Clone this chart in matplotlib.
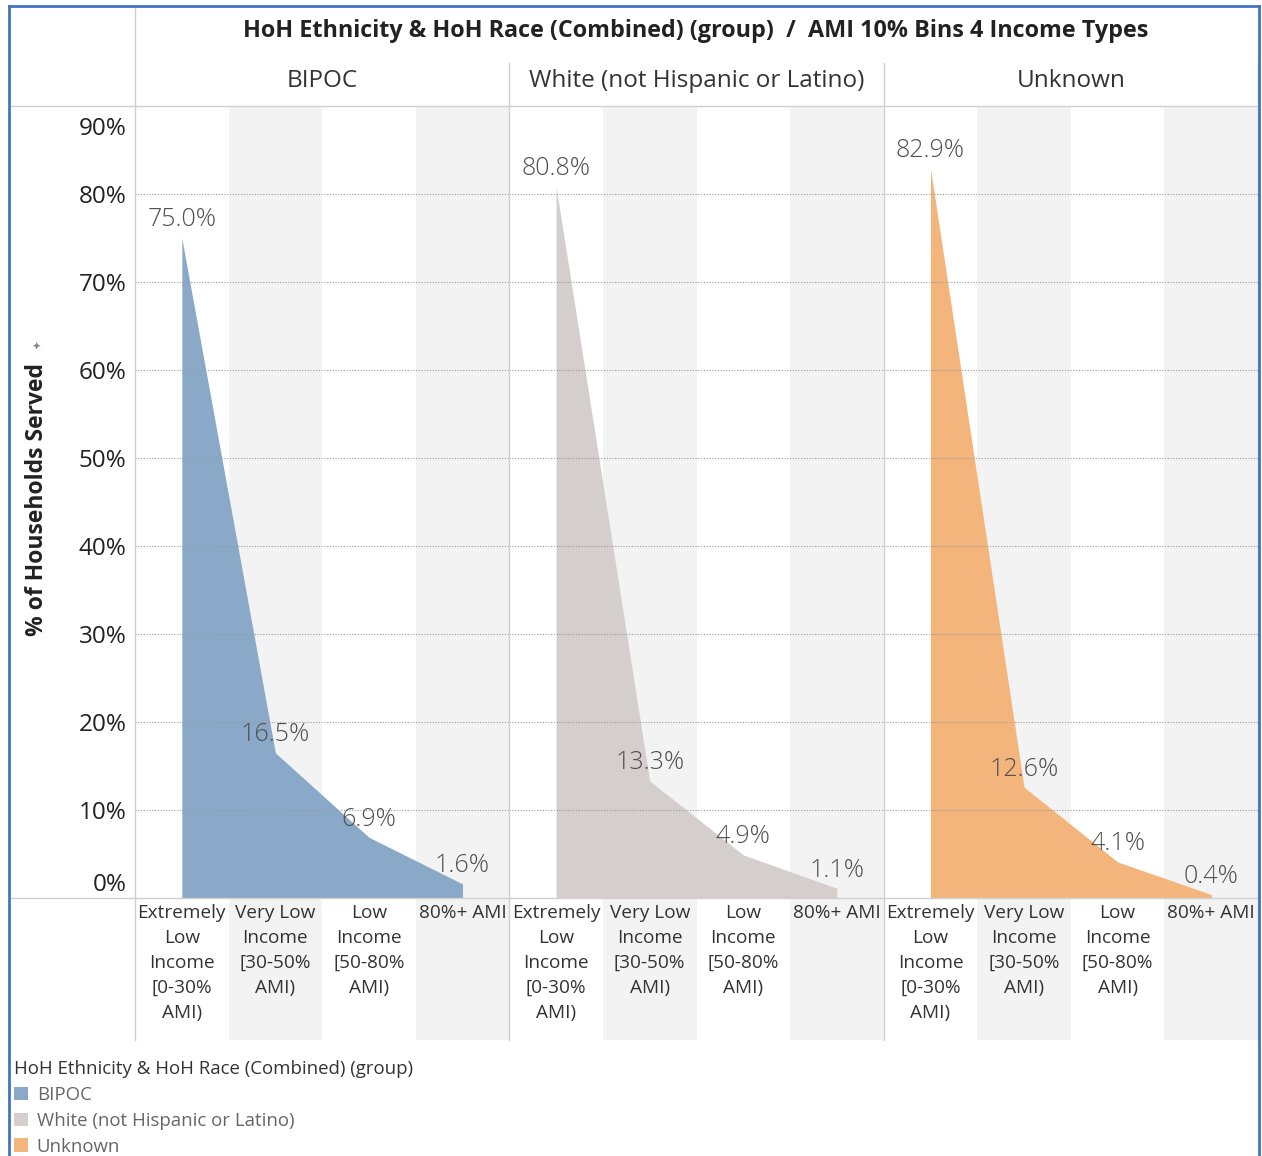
import matplotlib.pyplot as plt
from matplotlib.patches import Rectangle, Patch
from matplotlib.lines import Line2D
from matplotlib.transforms import ScaledTranslation

plt.rcParams['font.family'] = ['Open Sans', 'DejaVu Sans']

groups = ['BIPOC', 'White (not Hispanic or Latino)', 'Unknown']
income_types = ['Extremely\nLow\nIncome\n[0-30%\nAMI)',
                'Very Low\nIncome\n[30-50%\nAMI)',
                'Low\nIncome\n[50-80%\nAMI)',
                '80%+ AMI']
bipoc = [75.0, 16.5, 6.9, 1.6]
white = [80.8, 13.3, 4.9, 1.1]
unknown = [82.9, 12.6, 4.1, 0.4]
colors = ['#8aa9c9', '#d4cecc', '#f3b57b']

W, H = 1262, 1156
left, right, top, bottom = 135, 1258, 106, 898
pw = (right - left) / 3
band = '#f3f3f3'
rule = '#d0d0d0'

fig = plt.figure(figsize=(W / 100, H / 100), dpi=100)


def fx(px):
    return px / W


def fy(px):
    return 1 - px / H


axes = []
for i, (name, vals, c) in enumerate(zip(groups, [bipoc, white, unknown], colors)):
    ax = fig.add_axes([fx(left + i * pw), fy(bottom), fx(pw), (bottom - top) / H])
    ax.set_xlim(-0.5, 3.5)
    ax.set_ylim(0, 90)
    # shaded columns run down through the label area
    for j in (1, 3):
        ax.add_patch(Rectangle((j - 0.5, -0.179), 1, 1.179, transform=ax.get_xaxis_transform(),
                               facecolor=band, edgecolor='none', clip_on=False, zorder=0))
    xs = list(range(len(vals)))
    ax.fill_between(xs, vals, 0, color=c, lw=0, zorder=2)
    for x, v in zip(xs, vals):
        ax.annotate(f'{v:.1f}%', (x, v), xytext=(0, 4), textcoords='offset points',
                    ha='center', va='bottom', fontsize=18, color='#505050',
                    fontweight='light', zorder=3)
    ax.set_yticks(range(0, 91, 10))
    ax.yaxis.grid(True, linestyle=(0, (1, 1.5)), color='#9a9a9a', lw=0.8, zorder=1)
    ax.set_axisbelow(False)
    gl = ax.get_ygridlines()
    gl[0].set_visible(False)
    gl[-1].set_visible(False)
    ax.set_xticks(xs, income_types, fontsize=13.7, linespacing=1.5, va='top', color='#333333')
    ax.tick_params(axis='x', length=0, pad=4)
    ax.tick_params(axis='y', length=0, pad=6)
    if i == 0:
        ax.set_yticklabels([f'{t}%' for t in range(0, 91, 10)], fontsize=17.5, color='#222222')
        labels = ax.get_yticklabels()
        # keep the end labels inside the plot height
        labels[0].set_transform(labels[0].get_transform() + ScaledTranslation(0, 16 / 100, fig.dpi_scale_trans))
        labels[-1].set_transform(labels[-1].get_transform() + ScaledTranslation(0, -20 / 100, fig.dpi_scale_trans))
    else:
        ax.set_yticklabels([])
    for s in ax.spines.values():
        s.set_visible(False)
    ax.patch.set_alpha(0)
    fig.text(fx(left + (i + 0.5) * pw), fy(81), name, ha='center', va='center',
             fontsize=17.5, color='#333333')
    axes.append(ax)

# frame rules
lines = [([fx(10), fx(1258)], [fy(106), fy(106)]),
         ([fx(10), fx(1258)], [fy(898), fy(898)]),
         ([fx(135), fx(135)], [fy(8), fy(1040)])]
for i in range(1, 4):
    x = left + i * pw
    lines.append(([fx(x), fx(x)], [fy(63), fy(1040)]))
for xs_, ys_ in lines:
    fig.add_artist(Line2D(xs_, ys_, color=rule, lw=1))

# outer blue border
for xs_, ys_ in [([fx(9), fx(9)], [fy(6), 0]),
                 ([fx(1259), fx(1259)], [fy(6), 0]),
                 ([fx(9), fx(1259)], [fy(6), fy(6)])]:
    fig.add_artist(Line2D(xs_, ys_, color='#4472c4', lw=2))

fig.text(fx(696), fy(31),
         'HoH Ethnicity & HoH Race (Combined) (group)  /  AMI 10% Bins 4 Income Types',
         ha='center', va='center', fontsize=16.8, fontweight='bold', color='#222222')

fig.text(fx(37), fy(500), '% of Households Served', rotation=90, ha='center', va='center',
         fontsize=16.5, fontweight='bold', color='#222222')
fig.text(fx(36), fy(347), '✦', ha='center', va='center', fontsize=8, color='#888888')

handles = [Patch(facecolor=c, edgecolor='none') for c in colors]
leg = fig.legend(handles, groups, loc='upper left', bbox_to_anchor=(fx(5), fy(1051)),
                 title='HoH Ethnicity & HoH Race (Combined) (group)', frameon=False,
                 fontsize=13.4, title_fontsize=13.4, handlelength=0.75, handleheight=0.75,
                 handletextpad=0.45, labelspacing=0.42, borderpad=0, alignment='left')
leg.get_title().set_color('#333333')
for t in leg.get_texts():
    t.set_color('#666666')

fig.savefig('out.png', dpi=100)
